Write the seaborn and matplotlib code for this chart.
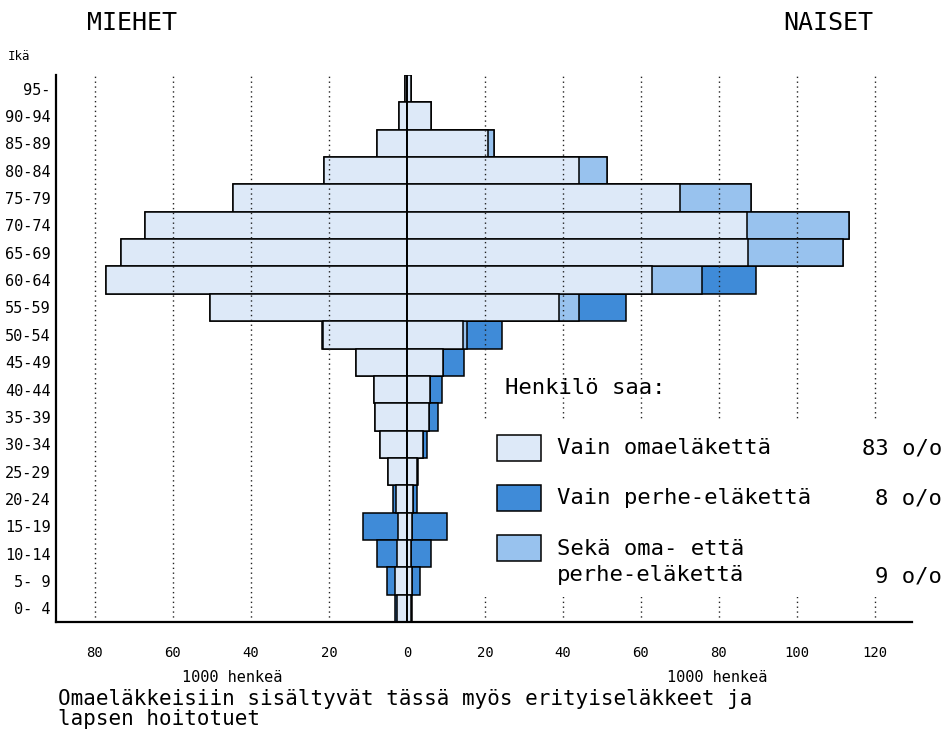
import matplotlib
matplotlib.use("Agg")
import matplotlib.pyplot as plt
import numpy as np
import pandas as pd
import seaborn as sns
from matplotlib.patches import Rectangle

# age groups, top to bottom
ages = ["95-", "90-94", "85-89", "80-84", "75-79", "70-74", "65-69", "60-64", "55-59", "50-54",
        "45-49", "40-44", "35-39", "30-34", "25-29", "20-24", "15-19", "10-14", "5- 9", "0- 4"]

# 1000 persons
men_own = [0.5, 2.0, 7.7, 21.3, 44.6, 67.2, 73.3, 77.2, 50.5, 21.5,
           13.1, 8.5, 8.2, 6.9, 4.9, 2.8, 2.3, 2.6, 3.0, 2.6]
men_family = [0, 0, 0, 0, 0, 0, 0, 0, 0, 0.3,
              0, 0, 0, 0, 0, 0.7, 9.0, 5.1, 2.2, 0.4]

women_own = [1.0, 6.2, 20.8, 44.1, 70.0, 87.2, 87.4, 62.8, 39.0, 14.4,
             9.2, 5.9, 5.6, 4.1, 2.6, 1.5, 1.3, 1.0, 1.4, 1.0]
women_both = [0, 0, 1.5, 7.2, 18.2, 26.1, 24.4, 12.8, 5.1, 1.0,
              0, 0, 0, 0, 0, 0, 0, 0, 0, 0]
women_family = [0, 0, 0, 0, 0, 0, 0, 13.9, 12.1, 9.0,
                5.4, 3.0, 2.4, 1.0, 0.3, 1.1, 9.0, 5.2, 1.9, 0.3]

xticks = [-80, -60, -40, -20, 0, 20, 40, 60, 80, 100, 120]
grid_x = [-80, -60, -40, -20, 20, 40, 60, 80, 100, 120]

legend_labels = ["Vain omaeläkettä", "Vain perhe-eläkettä", "Sekä oma- että\nperhe-eläkettä"]
legend_shares = ["83 o/o", "8 o/o", "9 o/o"]

c_own = "#dde9f8"
c_family = "#3f8bd8"
c_both = "#98c2ee"

sns.set_style("white")
plt.rcParams["font.family"] = ["DejaVu Sans Mono", "DejaVu Sans"]
plt.rcParams["text.color"] = "black"
plt.rcParams["xtick.color"] = "black"
plt.rcParams["ytick.color"] = "black"

df = pd.DataFrame({
    "age": ages,
    "men_own": men_own,
    "men_family": men_family,
    "women_own": women_own,
    "women_both": women_both,
    "women_family": women_family,
})
df["men_total"] = -(df["men_own"] + df["men_family"])
df["men_inner"] = -df["men_own"]
df["women_total"] = df["women_own"] + df["women_both"] + df["women_family"]
df["women_mid"] = df["women_own"] + df["women_both"]

fig = plt.figure(figsize=(9.45, 7.33), dpi=100)
ax = fig.add_axes([56 / 945, 1 - 622 / 733, 856 / 945, 547 / 733])

bar_kw = dict(y="age", order=ages, orient="h", width=1.0, edgecolor="black",
              linewidth=1.1, errorbar=None, saturation=1, ax=ax)
sns.barplot(data=df, x="men_total", color=c_family, **bar_kw)
sns.barplot(data=df, x="men_inner", color=c_own, **bar_kw)
sns.barplot(data=df, x="women_total", color=c_family, **bar_kw)
sns.barplot(data=df, x="women_mid", color=c_both, **bar_kw)
sns.barplot(data=df, x="women_own", color=c_own, **bar_kw)

for gx in grid_x:
    ax.axvline(gx, color="#222222", lw=1.0, ls=(0, (1, 2.5)), zorder=2)
ax.axvline(0, color="black", lw=1.3, zorder=3)

# white area behind the legend interrupts the grid
ax.add_patch(Rectangle((16.2, 12.1), 120, 6.5, facecolor="white", edgecolor="none",
                       zorder=2.5, clip_on=False))

ax.set_xlim(-90, 129.5)
ax.set_ylim(19.5, -0.5)
ax.set_xticks(xticks)
ax.set_xticklabels([str(abs(v)) for v in xticks], fontsize=10)
ax.set_yticks(range(len(ages)))
ax.set_yticklabels(ages, fontsize=11)
ax.set_xlabel("")
ax.set_ylabel("")
ax.tick_params(axis="x", direction="out", length=13, width=1.5, pad=4, colors="black")
ax.tick_params(axis="y", length=0, pad=4, colors="black")
for side in ["top", "right"]:
    ax.spines[side].set_visible(False)
for side in ["left", "bottom"]:
    ax.spines[side].set_linewidth(1.6)
    ax.spines[side].set_color("black")

fig.text(132 / 945, 1 - 23 / 733, "MIEHET", fontsize=18, ha="center", va="center")
fig.text(828 / 945, 1 - 23 / 733, "NAISET", fontsize=18, ha="center", va="center")
fig.text(8 / 945, 1 - 57 / 733, "Ikä", fontsize=9, ha="left", va="center")

fig.text(232 / 945, 1 - 677 / 733, "1000 henkeä", fontsize=11, ha="center", va="center")
fig.text(717 / 945, 1 - 677 / 733, "1000 henkeä", fontsize=11, ha="center", va="center")
fig.text(58 / 945, 1 - 699 / 733, "Omaeläkkeisiin sisältyvät tässä myös erityiseläkkeet ja",
         fontsize=15, ha="left", va="center")
fig.text(58 / 945, 1 - 719 / 733, "lapsen hoitotuet", fontsize=15, ha="left", va="center")

# legend
fig.text(505 / 945, 1 - 388 / 733, "Henkilö saa:", fontsize=16, ha="left", va="center")
box_tops = [435, 485, 535]
text_y = [448, 498, 562]
share_y = [448, 498, 577]
for col, top, ty, sy, lab, share in zip([c_own, c_family, c_both], box_tops, text_y, share_y,
                                        legend_labels, legend_shares):
    fig.patches.append(Rectangle((497 / 945, 1 - (top + 26) / 733), 44 / 945, 26 / 733,
                                 facecolor=col, edgecolor="black", linewidth=1.1,
                                 transform=fig.transFigure, figure=fig))
    fig.text(557 / 945, 1 - ty / 733, lab, fontsize=16, ha="left", va="center",
             linespacing=1.4)
    fig.text(942 / 945, 1 - sy / 733, share, fontsize=16, ha="right", va="center")

fig.savefig("out.png", dpi=100)
